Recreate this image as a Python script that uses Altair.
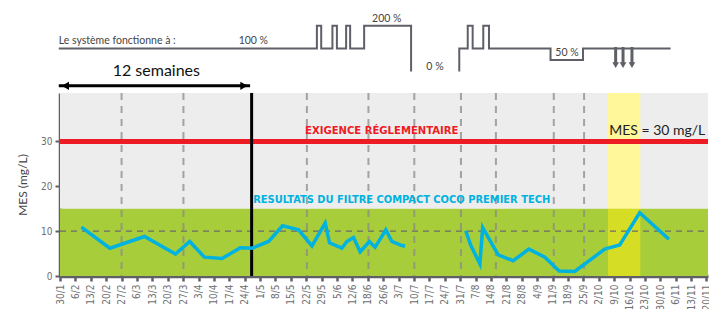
import altair as alt
import pandas as pd

# ---------------- data ----------------
week_labels = ["30/1", "6/2", "13/2", "20/2", "27/2", "6/3", "13/3", "20/3", "27/3", "3/4",
               "10/4", "17/4", "24/4", "1/5", "8/5", "15/5", "22/5", "29/5", "5/6", "12/6",
               "18/6", "26/6", "3/7", "10/7", "17/7", "24/7", "31/7", "7/8", "14/8", "21/8",
               "28/8", "4/9", "11/9", "18/9", "25/9", "2/10", "9/10", "16/10", "23/10", "30/10",
               "6/11", "13/11", "20/11"]

# MES measurements (week index, mg/L), two sampling periods
mes_week_1 = [1.39, 3.24, 5.49, 7.50, 8.43, 9.38, 10.53, 11.72, 12.48, 13.55, 14.46, 15.50,
              16.37, 17.23, 17.51, 18.31, 18.64, 19.07, 19.50, 20.10, 20.47, 21.17, 21.56,
              22.20, 22.42]
mes_val_1 = [10.9, 6.2, 8.8, 4.9, 7.7, 4.2, 3.9, 6.3, 6.2, 7.7, 11.2, 10.3,
             6.7, 11.8, 7.4, 6.2, 7.7, 8.6, 5.4, 7.7, 6.4, 10.3, 7.7,
             6.8, 6.7]
mes_week_2 = [26.36, 26.68, 27.28, 27.46, 28.47, 29.44, 30.46, 31.50, 32.43, 33.44,
              35.39, 36.36, 37.66, 39.56]
mes_val_2 = [10.1, 6.9, 2.7, 10.8, 4.7, 3.4, 6.0, 4.2, 1.1, 1.0,
             6.0, 6.9, 14.1, 8.2]

limit_mes = 30          # exigence réglementaire
zone_max = 15           # green zone
target_mes = 10         # dashed reference
y_max = 40.8
x_max = 42.1

event_weeks = [4.0, 8.02, 16.04, 20.04, 23.02, 26.05, 28.32, 32.08, 34.05]
period_end_week = 12.45     # end of 12 weeks
yellow_weeks = [35.6, 37.7]

# operating regime (percent of design load), step breakpoints
op_week = [-0.08, 16.69, 16.97, 17.70, 17.99, 18.59, 18.85, 19.76, 22.81,
           25.94, 25.94, 26.49, 26.81, 27.50, 27.87, 31.87, 33.98, 39.67]
op_level = [100, 200, 100, 200, 100, 200, 100, 200, 0,
            0, 100, 200, 100, 200, 100, 50, 100, 100]
op_seg = ["a"] * 9 + ["b"] * 9
arrow_weeks = [36.10, 36.58, 37.16]

# ---------------- styles ----------------
AX = "#5f6067"
GRAY_BG = "#ededed"
GREEN = "#a8cd3a"
RED = "#ed1c24"
BLUE = "#00b2df"
COND = "Liberation Sans Narrow, DejaVu Sans Condensed, sans-serif"
GEO = "Lato, Open Sans, sans-serif"

XS = alt.Scale(domain=[0, x_max], nice=False, zero=False)
YS = alt.Scale(domain=[0, y_max], nice=False)

label_js = "[" + ",".join("'%s'" % s for s in week_labels) + "]"

X_AXIS = alt.Axis(values=list(range(len(week_labels))),
                  labelExpr=label_js + "[datum.value]",
                  labelAngle=-90, labelFont=COND, labelFontSize=10,
                  labelColor="#6d6e71", labelPadding=3,
                  domainColor=AX, domainWidth=3.5,
                  tickColor=AX, tickWidth=2.5, tickSize=5,
                  grid=False, title=None, labelOverlap=False,
                  labelBound=False, labelFlush=False)
Y_AXIS = alt.Axis(values=[0, 10, 20, 30], labelFont=COND, labelFontSize=10,
                  labelColor="#6d6e71", domainColor=AX, domainWidth=3.5,
                  tickColor=AX, tickWidth=2, tickSize=5, labelPadding=3,
                  grid=False, title="MES (mg/L)", titleFont=GEO,
                  titleFontSize=12, titleFontWeight="normal",
                  titleColor="#444", titlePadding=11)


def X(f):
    return alt.X(f, scale=XS, axis=X_AXIS, title=None)


def Y(f):
    return alt.Y(f, scale=YS, axis=Y_AXIS, title="MES (mg/L)")


bands = pd.DataFrame({
    "x0": [0, 0, yellow_weeks[0], yellow_weeks[0]],
    "x1": [x_max, x_max, yellow_weeks[1], yellow_weeks[1]],
    "y0": [zone_max, 0, zone_max, 0],
    "y1": [y_max, zone_max, y_max, zone_max],
    "c": [GRAY_BG, GREEN, "#fff799", "#d5de24"],
})
bg = alt.Chart(bands).mark_rect().encode(
    x=X("x0:Q"), x2="x1:Q", y=Y("y0:Q"), y2="y1:Q",
    color=alt.Color("c:N", scale=None),
)

ev = pd.DataFrame({"w": event_weeks})
ev_rules = alt.Chart(ev).mark_rule(color="#8a8a8a", strokeWidth=2, strokeDash=[7, 6],
                                   opacity=0.75).encode(
    x=X("w:Q"), y=alt.value(0), y2=alt.value(183))

target = alt.Chart(pd.DataFrame({"v": [target_mes]})).mark_rule(
    color="#6b6b6b", strokeWidth=1.2, strokeDash=[6, 5]).encode(
    y=Y("v:Q"), x=alt.value(0), x2=alt.value(648))

limit = alt.Chart(pd.DataFrame({"v": [limit_mes]})).mark_rule(
    color=RED, strokeWidth=5).encode(
    y=Y("v:Q"), x=alt.value(0), x2=alt.value(648))

period = alt.Chart(pd.DataFrame({"w": [period_end_week]})).mark_rule(
    color="black", strokeWidth=3).encode(
    x=X("w:Q"), y=alt.value(0), y2=alt.value(183))

mes = pd.concat([
    pd.DataFrame({"w": mes_week_1, "v": mes_val_1, "p": "1"}),
    pd.DataFrame({"w": mes_week_2, "v": mes_val_2, "p": "2"}),
])
mes_line = alt.Chart(mes).mark_line(color=BLUE, strokeWidth=3.5, strokeJoin="miter").encode(
    x=X("w:Q"), y=Y("v:Q"), detail="p:N")

# annotations inside plot
ann = pd.DataFrame({
    "w": [20.9, 22.2, 38.8],
    "v": [32.4, 17.0, 32.4],
    "t": ["EXIGENCE RÉGLEMENTAIRE", "RESULTATS DU FILTRE COMPACT COCO PREMIER TECH",
          "MES = 30 mg/L"],
    "c": [RED, BLUE, "#222222"],
    "f": [COND, COND, GEO],
    "b": ["bold", "bold", "normal"],
    "s": [11.2, 11.0, 14],
})
ann_layers = []
for i in range(len(ann)):
    r = ann.iloc[[i]]
    ann_layers.append(alt.Chart(r).mark_text(
        font=r["f"].iloc[0], fontWeight=r["b"].iloc[0], fontSize=float(r["s"].iloc[0]),
        color=r["c"].iloc[0], align="center", baseline="middle").encode(
        x=X("w:Q"), y=Y("v:Q"), text="t:N"))

# operating regime schematic above the plot
op = pd.DataFrame({"w": op_week, "lvl": op_level, "seg": op_seg, "o": range(len(op_week))})
op_line = alt.Chart(op).transform_calculate(yy="45.6 + datum.lvl * 0.051").mark_line(
    color=AX, strokeWidth=2, interpolate="step-after").encode(
    x=X("w:Q"), y=Y("yy:Q"), detail="seg:N", order="o:Q")

arr = pd.DataFrame({"w": arrow_weeks})
arr_shaft = alt.Chart(arr).transform_calculate(y0="51.05", y1="47.3").mark_rule(
    color=AX, strokeWidth=3).encode(
    x=X("w:Q"), y=Y("y0:Q"), y2="y1:Q")
arr_head = alt.Chart(arr).transform_calculate(y0="47.0").mark_point(
    shape="triangle-down", filled=True, color=AX, size=45, opacity=1).encode(
    x=X("w:Q"), y=Y("y0:Q"))

op_text = pd.DataFrame({
    "w": [-0.08, 12.56, 21.23, 24.36, 32.94],
    "v": [52.3, 52.3, 57.4, 46.5, 49.7],
    "t": ["Le système fonctionne à :", "100 %", "200 %", "0 %", "50 %"],
    "a": ["left", "center", "center", "center", "center"],
})
op_labels = []
for al in ["left", "center"]:
    op_labels.append(alt.Chart(op_text[op_text["a"] == al]).mark_text(
        font=GEO, fontSize=10.5, color="#444", align=al, baseline="middle").encode(
        x=X("w:Q"), y=Y("v:Q"), text="t:N"))

# 12 weeks arrow
wk = pd.DataFrame({"w0": [-0.08], "w1": [period_end_week - 0.1], "v": [42.4]})
wk_rule = alt.Chart(wk).mark_rule(color="black", strokeWidth=3).encode(
    x=X("w0:Q"), x2="w1:Q", y=Y("v:Q"))
wk_heads = pd.DataFrame({"w": [0.35, period_end_week - 0.5], "v": [42.4, 42.4],
                         "s": ["triangle-left", "triangle-right"]})
wk_head = alt.Chart(wk_heads).mark_point(filled=True, color="black", size=70, opacity=1).encode(
    x=X("w:Q"), y=Y("v:Q"), shape=alt.Shape("s:N", scale=None))
wk_text = alt.Chart(pd.DataFrame({"w": [6.26], "v": [45.6], "t": ["12 semaines"]})).mark_text(
    font=GEO, fontSize=16, color="#111", align="center", baseline="middle").encode(
    x=X("w:Q"), y=Y("v:Q"), text="t:N")

chart = alt.layer(
    bg, ev_rules, target, limit, period, mes_line, *ann_layers,
    op_line, arr_shaft, arr_head, *op_labels, wk_rule, wk_head, wk_text,
).properties(
    width=648, height=183,
    autosize=alt.AutoSizeParams(type="none"),
    padding={"left": 52, "top": 85, "right": 1, "bottom": 33},
).configure_view(stroke=None)

chart.save("out.html", embed_options={"renderer": "svg", "actions": False})
